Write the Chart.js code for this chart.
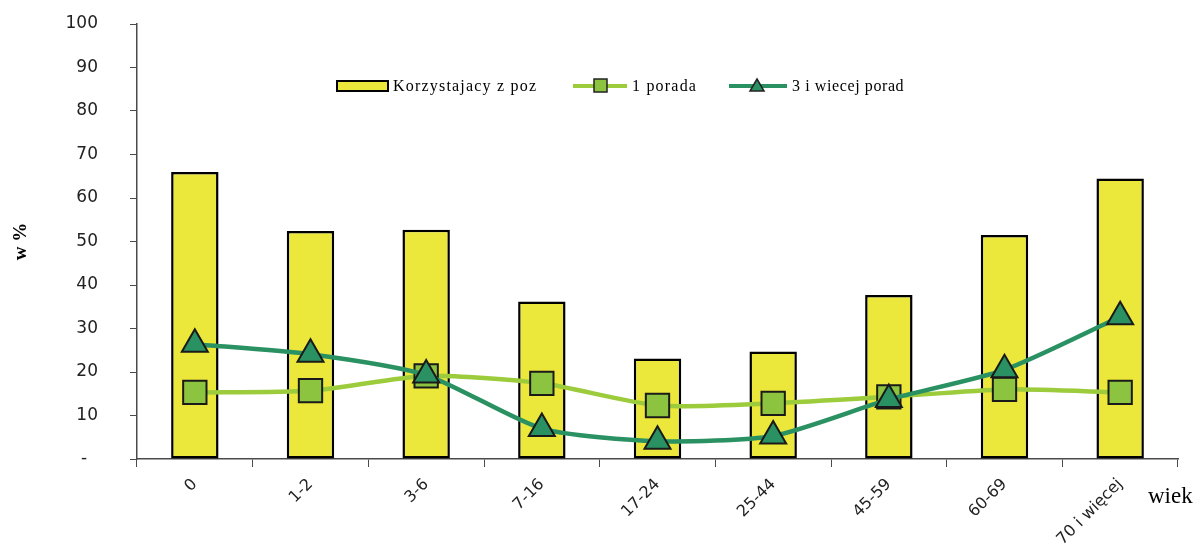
<!DOCTYPE html>
<html>
<head>
<meta charset="utf-8">
<script src="https://cdn.jsdelivr.net/npm/chart.js@4/dist/chart.umd.min.js"></script>
<style>
html,body{margin:0;padding:0;background:#fff;}
#wrap{width:1202px;height:550px;}
</style>
</head>
<body>
<div id="wrap"><canvas id="c" width="1202" height="550"></canvas></div>
<script>
const categories = ['0', '1-2', '3-6', '7-16', '17-24', '25-44', '45-59', '60-69', '70 i więcej'];
const korzystajacy = [66.0, 52.4, 52.7, 36.2, 23.1, 24.7, 37.7, 51.5, 64.5];
const porada1 = [15.3, 15.7, 19.1, 17.4, 12.3, 12.8, 14.3, 16.0, 15.3];
const porad3 = [26.4, 24.1, 19.3, 7.0, 4.1, 5.3, 13.7, 20.5, 32.7];
const seriesNames = ['Korzystajacy z poz', '1 porada', '3 i wiecej porad'];
const yTicks = [0, 10, 20, 30, 40, 50, 60, 70, 80, 90, 100];
const xAxisName = 'wiek';
const yAxisName = 'w %';

const YELLOW = '#ECE83B';
const LIGHT = '#9CCB3B';
const LIGHT_FILL = '#8CC43F';
const DARK = '#2A9162';
const DARK_FILL = '#2A9162';
const AXIS = '#4a4a4a';

const extras = {
  id: 'extras',
  afterDraw(chart) {
    const ctx = chart.ctx;
    const xs = chart.scales.x;
    ctx.save();
    ctx.font = '23px "Liberation Serif", "Times New Roman", serif';
    ctx.fillStyle = '#000';
    ctx.textAlign = 'left';
    ctx.textBaseline = 'alphabetic';
    ctx.fillText(xAxisName, xs.right - 30, 503);

    const cy = 86;
    ctx.font = '16px "Liberation Serif", "Times New Roman", serif';
    ctx.textBaseline = 'middle';
    try { ctx.letterSpacing = '1.2px'; } catch (e) {}
    ctx.fillStyle = YELLOW;
    ctx.strokeStyle = '#000';
    ctx.lineWidth = 2;
    ctx.fillRect(337, cy - 5, 51, 10);
    ctx.strokeRect(337, cy - 5, 51, 10);
    ctx.fillStyle = '#000';
    ctx.fillText(seriesNames[0], 393, cy + 1);
    ctx.strokeStyle = LIGHT;
    ctx.lineWidth = 4;
    ctx.beginPath(); ctx.moveTo(573, cy); ctx.lineTo(627, cy); ctx.stroke();
    ctx.fillStyle = LIGHT_FILL;
    ctx.strokeStyle = '#222';
    ctx.lineWidth = 1.5;
    ctx.fillRect(594, cy - 7, 13, 13);
    ctx.strokeRect(594, cy - 7, 13, 13);
    ctx.fillStyle = '#000';
    ctx.fillText(seriesNames[1], 632, cy + 1);
    ctx.strokeStyle = DARK;
    ctx.lineWidth = 4;
    ctx.beginPath(); ctx.moveTo(729, cy); ctx.lineTo(787, cy); ctx.stroke();
    ctx.fillStyle = DARK_FILL;
    ctx.strokeStyle = '#222';
    ctx.lineWidth = 1.5;
    ctx.beginPath();
    ctx.moveTo(757, cy - 7); ctx.lineTo(764, cy + 5); ctx.lineTo(750, cy + 5); ctx.closePath();
    ctx.fill(); ctx.stroke();
    ctx.fillStyle = '#000';
    try { ctx.letterSpacing = '0.6px'; } catch (e) {}
    ctx.fillText(seriesNames[2], 792, cy + 1);
    ctx.restore();
  }
};

new Chart(document.getElementById('c'), {
  type: 'bar',
  data: {
    labels: categories,
    datasets: [
      {
        type: 'line', label: seriesNames[2], data: porad3, order: 1,
        borderColor: DARK, borderWidth: 4.5, tension: 0.22,
        pointStyle: 'triangle', pointRadius: 15, pointBackgroundColor: DARK_FILL,
        pointBorderColor: '#1a1a1a', pointBorderWidth: 2, fill: false
      },
      {
        type: 'line', label: seriesNames[1], data: porada1, order: 2,
        borderColor: LIGHT, borderWidth: 4.5, tension: 0.22,
        pointStyle: 'rect', pointRadius: 16.5, pointBackgroundColor: LIGHT_FILL,
        pointBorderColor: '#1a1a1a', pointBorderWidth: 2, fill: false
      },
      {
        type: 'bar', label: seriesNames[0], data: korzystajacy, order: 3,
        backgroundColor: YELLOW, borderColor: '#000', borderWidth: 2.5,
        borderSkipped: false, categoryPercentage: 1.0, barPercentage: 0.41
      }
    ]
  },
  options: {
    responsive: false,
    animation: false,
    layout: { padding: { left: 0, right: 24, top: 24, bottom: 0 } },
    plugins: { legend: { display: false }, tooltip: { enabled: false } },
    scales: {
      x: {
        offset: true,
        grid: { display: true, drawOnChartArea: false, drawTicks: true, tickLength: 8, color: AXIS, offset: true },
        border: { display: true, color: AXIS, width: 1.5 },
        ticks: {
          minRotation: 45, maxRotation: 45, padding: 8, autoSkip: false,
          color: '#222', font: { family: '"DejaVu Sans", Verdana, sans-serif', size: 16 }
        },
        afterFit(scale) { scale.height = 91; }
      },
      y: {
        min: 0, max: 100,
        afterBuildTicks(scale) { scale.ticks = yTicks.map(v => ({ value: v })); },
        grid: { display: true, drawOnChartArea: false, drawTicks: true, tickLength: 7, color: AXIS },
        border: { display: true, color: AXIS, width: 1.5 },
        title: {
          display: true, text: yAxisName, color: '#000', padding: { top: 10, bottom: 0 },
          font: { family: '"Liberation Serif", "Times New Roman", serif', size: 19, weight: 'bold' }
        },
        ticks: {
          padding: 32, color: '#222',
          font: { family: '"DejaVu Sans", Verdana, sans-serif', size: 17 },
          callback: v => (v === 0 ? '-  ' : String(v))
        },
        afterFit(scale) {
          scale.width = 137;
          scale.paddingTop = 10;
          scale.paddingBottom = 10;
        }
      }
    }
  },
  plugins: [extras]
});
</script>
</body>
</html>
